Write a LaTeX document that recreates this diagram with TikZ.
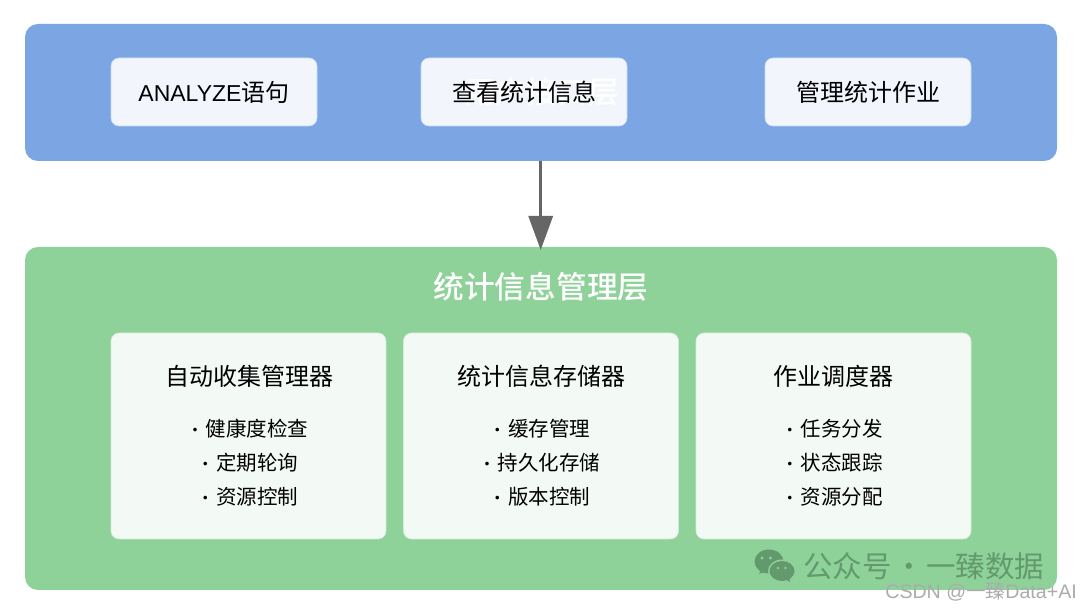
\documentclass[tikz,border=0pt]{standalone}
\usepackage{fontspec}
\setmainfont{Noto Sans CJK SC}
\newfontfamily\latinfont{Liberation Sans}
\newfontfamily\mediumfont{Noto Sans CJK SC Medium}
\usetikzlibrary{arrows.meta}
\definecolor{topblue}{HTML}{7BA5E3}
\definecolor{layergreen}{HTML}{8ED29A}
\definecolor{arrowgray}{HTML}{666666}
\definecolor{markgreen}{HTML}{639A6D}
\definecolor{csdngray}{HTML}{ABABAB}
\newcommand{\modbullet}{{\fontsize{17}{17}\selectfont •}\hspace{2.4pt}}
\tikzset{
	layer/.style={rounded corners=13pt, inner sep=0pt},
	layertitle/.style={text=white, font=\fontsize{30.7}{30.7}\mediumfont},
	topitem/.style={draw=white!60!topblue, line width=0.6pt, fill=white, fill opacity=0.9, text opacity=1, rounded corners=8pt, minimum width=206pt, minimum height=68pt, inner sep=0pt, font=\fontsize{24}{24}\selectfont, text=black},
	moditem/.style={draw=white!60!layergreen, line width=0.6pt, fill=white, fill opacity=0.9, rounded corners=8pt, minimum width=275pt, minimum height=206pt, inner sep=0pt},
	modtitle/.style={font=\fontsize{24}{24}\selectfont, text=black},
	modline/.style={font=\fontsize{20.5}{20.5}\selectfont, text=black}
}
\begin{document}
\begin{tikzpicture}[x=1pt, y=-1pt]
	\useasboundingbox (0,0) rectangle (1080,609);
	\fill [white] (0,0) rectangle (1080,609);
	% layers
	\fill [topblue, layer] (25,24) rectangle (1057,161);
	\fill [layergreen, layer] (25,247) rectangle (1057,590);
	\coordinate (topbottom) at (540.7,161);
	\coordinate (greentop) at (540.7,250);
	\node (toptitle) [layertitle] at (542,92) {用户接口层};
	\node (midtitle) [layertitle] at (541,287) {统计信息管理层};
	% top boxes
	\node (analyze) [topitem] at (214,92) {{\latinfont\fontsize{23}{23}\selectfont ANALYZE}语句};
	\node (viewstats) [topitem] at (524,92) {查看统计信息};
	\node (jobs) [topitem] at (868,92) {管理统计作业};
	\draw [arrowgray, line width=3.2pt, -{Triangle[length=34pt, width=24pt]}] (topbottom) -- (greentop);
	% modules
	\node (collect) [moditem] at (248.5,436) {};
	\node (store) [moditem] at (541,436) {};
	\node (sched) [moditem] at (833.5,436) {};
	\node (collecttitle) [modtitle] at (249,376) {自动收集管理器};
	\node (storetitle) [modtitle] at (541,376) {统计信息存储器};
	\node (schedtitle) [modtitle] at (833,376) {作业调度器};
	\node (a1) [modline] at (247.5,429) {\modbullet 健康度检查};
	\node (a2) [modline] at (247.5,463) {\modbullet 定期轮询};
	\node (a3) [modline] at (247.5,497) {\modbullet 资源控制};
	\node (b1) [modline] at (539.5,429) {\modbullet 缓存管理};
	\node (b2) [modline] at (539.5,463) {\modbullet 持久化存储};
	\node (b3) [modline] at (539.5,497) {\modbullet 版本控制};
	\node (c1) [modline] at (832,429) {\modbullet 任务分发};
	\node (c2) [modline] at (832,463) {\modbullet 状态跟踪};
	\node (c3) [modline] at (832,497) {\modbullet 资源分配};
	% watermarks
	\fill [markgreen] (769,561.5) ellipse (14.5pt and 12pt);
	\fill [markgreen] (761,570) -- (759,574) -- (767,571) -- cycle;
	\fill [layergreen] (782,571) ellipse (14pt and 11.5pt);
	\fill [markgreen] (782,571) ellipse (12.5pt and 10pt);
	\fill [markgreen] (785,579) -- (790,582) -- (789,576) -- cycle;
	\foreach \px/\py/\pr in {762/558/1.6, 770.5/558/1.6, 778/568/1.3, 785.5/568/1.3}
		\fill [layergreen] (\px,\py) circle (\pr pt);
	\node (mark) [text=markgreen, font=\fontsize{29.5}{29.5}\selectfont, anchor=west, inner sep=0pt] at (803,566) {公众号\hspace{3pt}·\hspace{2pt}一臻数据};
	\node (csdn) [text=csdngray, font=\fontsize{19.6}{19.6}\selectfont, anchor=east, inner sep=0pt] at (1077,592) {{\latinfont CSDN @}一臻{\latinfont Data+AI}};
\end{tikzpicture}
\end{document}
